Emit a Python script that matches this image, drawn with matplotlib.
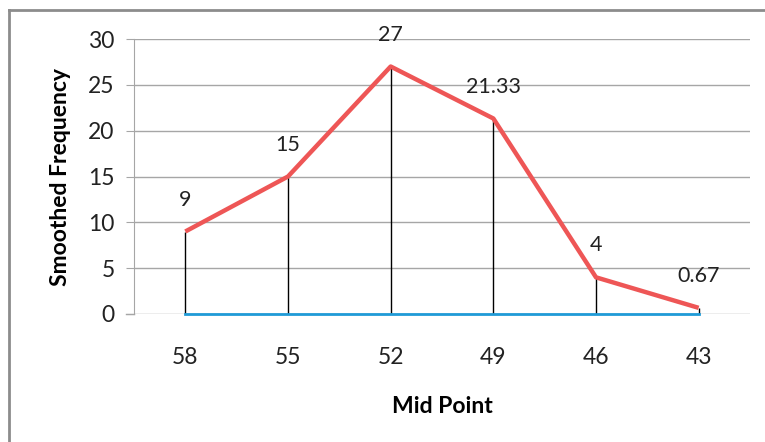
import matplotlib.pyplot as plt
from matplotlib.lines import Line2D

plt.rcParams['font.family'] = ['Lato', 'DejaVu Sans']

# data
mid_points = ["58", "55", "52", "49", "46", "43"]
smoothed = [9, 15, 27, 21.33, 4, 0.67]
value_labels = ["9", "15", "27", "21.33", "4", "0.67"]
baseline = [0, 0, 0, 0, 0, 0]

fig = plt.figure(figsize=(7.65, 4.42), dpi=100)
ax = fig.add_axes([134 / 765, 1 - 314 / 442, 616 / 765, 275 / 442])

x = list(range(len(mid_points)))

# drop lines from each point down to zero
ax.vlines(x, 0, smoothed, colors="black", linewidth=1, zorder=3)
# zero series
ax.plot(x, baseline, color="#1f9bd7", linewidth=2, zorder=4, clip_on=False)
# smoothed frequency line
ax.plot(x, smoothed, color="#ee5656", linewidth=3.2, solid_capstyle="butt", zorder=5)

for xi, yi, lab in zip(x, smoothed, value_labels):
    ax.annotate(lab, (xi, yi), xytext=(0, 23), textcoords="offset points",
                ha="center", va="center", fontsize=15.5, color="#222222")

ax.set_xlim(-0.5, len(mid_points) - 0.5)
ax.set_ylim(0, 30)
ax.set_yticks(range(0, 31, 5))
ax.set_xticks(x)
ax.set_xticklabels(mid_points)
ax.grid(axis="y", color="#a6a6a6", linewidth=1)
ax.set_axisbelow(True)
for side in ["top", "right", "bottom"]:
    ax.spines[side].set_visible(False)
ax.spines["left"].set_color("#a6a6a6")
ax.tick_params(axis="y", length=6, color="#a6a6a6", labelsize=16.5, pad=8, labelcolor="#222222")
ax.tick_params(axis="x", length=0, labelsize=16.5, pad=24, labelcolor="#222222")
# extend zero line left like an axis tick
ax.plot([-0.58, -0.5], [0, 0], color="#a6a6a6", linewidth=1, clip_on=False)

ax.set_xlabel("Mid Point", fontsize=16.5, fontweight="bold", labelpad=20)
ax.set_ylabel("Smoothed Frequency", fontsize=16.5, fontweight="bold", labelpad=12)

# chart border (top and left edges visible)
fig.add_artist(Line2D([9 / 765, 9 / 765], [0, 1 - 10 / 442], color="#8c8c8c", linewidth=2))
fig.add_artist(Line2D([9 / 765, 1], [1 - 10 / 442, 1 - 10 / 442], color="#8c8c8c", linewidth=2))

fig.savefig("out.png", dpi=100)
